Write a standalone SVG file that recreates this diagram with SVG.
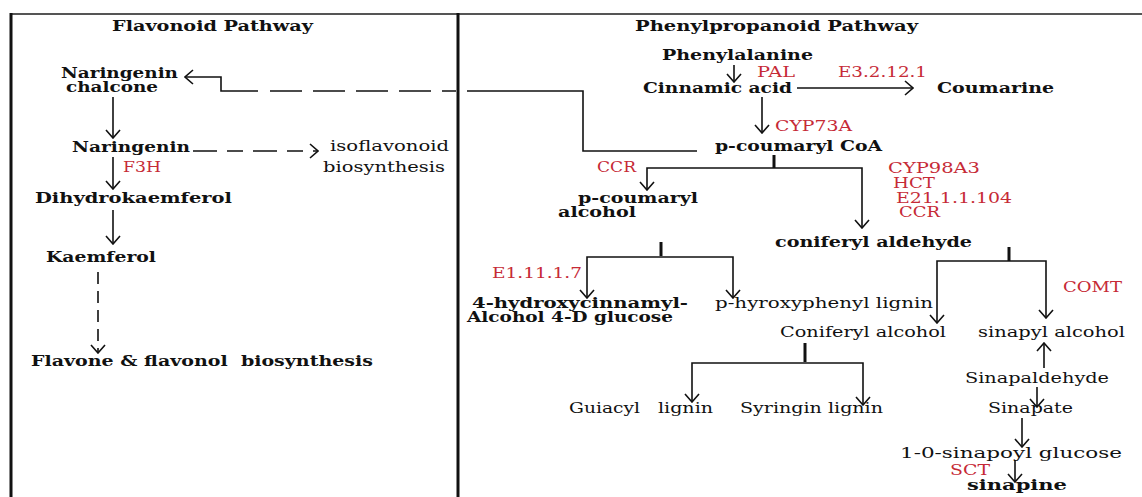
<svg xmlns="http://www.w3.org/2000/svg" width="1142" height="497" viewBox="0 0 1142 497">
<style>
text{font-family:"DejaVu Serif","Liberation Serif",serif;font-size:14px;fill:#111}
.b{font-weight:bold}
.r{fill:#c62a36}
.c{fill:none;stroke:#111;stroke-width:1.6}
.a{marker-end:url(#ah)}
.d{stroke-dasharray:32 11}
.t{fill:none;stroke:#111;stroke-width:3}
</style>
<defs>
<marker id="ah" viewBox="0 0 10 16" refX="9" refY="8" markerWidth="10" markerHeight="16" markerUnits="userSpaceOnUse" orient="auto">
<path d="M1,1 L9,8 L1,15" fill="none" stroke="#111" stroke-width="1.6"/>
</marker>
</defs>
<rect width="1142" height="497" fill="#fff"/>
<g id="frame">
<line x1="10" y1="14" x2="1142" y2="14" stroke="#555" stroke-width="2.2"/>
<line x1="11" y1="13" x2="11" y2="497" stroke="#111" stroke-width="3"/>
<line x1="458" y1="13" x2="458" y2="497" stroke="#111" stroke-width="3"/>
</g>
<g id="connectors">
<path class="c" d="M697,151 H583 V91 H467"/>
<path class="c d" d="M270,91 H456"/>
<path class="c a" d="M258,91 H221 V77 H185"/>
<path class="c a" d="M113,97 V138"/>
<path class="c a" d="M193,151 H318" stroke-dasharray="24 10 16 10"/>
<path class="c a" d="M113,157 V189"/>
<path class="c a" d="M113,210 V244"/>
<path class="c a" d="M98,272 V353" stroke-dasharray="12 7"/>
<path class="c a" d="M734,65 V82"/>
<path class="c a" d="M797,88 H913"/>
<path class="c a" d="M762,97 V133"/>
<line class="t" x1="774" y1="155" x2="774" y2="168"/>
<path class="c a" d="M774,168 H647 V190"/>
<path class="c a" d="M774,168 H862 V228"/>
<line class="t" x1="661" y1="242" x2="661" y2="256"/>
<path class="c a" d="M661,257 H587 V298"/>
<path class="c a" d="M661,257 H733 V298"/>
<line class="t" x1="1009" y1="247" x2="1009" y2="261"/>
<path class="c a" d="M1009,261 H937 V323"/>
<path class="c a" d="M1009,261 H1046 V318"/>
<line class="t" x1="805" y1="343" x2="805" y2="362"/>
<path class="c a" d="M805,363 H692 V402"/>
<path class="c a" d="M805,363 H863 V405"/>
<path class="c a" d="M1044,368 V343"/>
<path class="c a" d="M1037,387 V407"/>
<path class="c a" d="M1022,418 V447"/>
<path class="c a" d="M1015,460 V482"/>
</g>
<g id="title-flavonoid"><text class="b" x="112" y="31" textLength="201" lengthAdjust="spacingAndGlyphs">Flavonoid Pathway</text></g>
<g id="title-phenylpropanoid"><text class="b" x="635" y="31" textLength="283" lengthAdjust="spacingAndGlyphs">Phenylpropanoid Pathway</text></g>
<g id="naringenin-chalcone"><text class="b" x="61" y="78" textLength="117" lengthAdjust="spacingAndGlyphs">Naringenin</text><text class="b" x="66" y="92" textLength="92" lengthAdjust="spacingAndGlyphs">chalcone</text></g>
<g id="naringenin"><text class="b" x="72" y="152" textLength="118" lengthAdjust="spacingAndGlyphs">Naringenin</text></g>
<g id="f3h"><text class="r" x="123" y="172" textLength="38" lengthAdjust="spacingAndGlyphs">F3H</text></g>
<g id="isoflavonoid"><text x="330" y="151" textLength="119" lengthAdjust="spacingAndGlyphs">isoflavonoid</text><text x="323" y="172" textLength="122" lengthAdjust="spacingAndGlyphs">biosynthesis</text></g>
<g id="dihydrokaemferol"><text class="b" x="35" y="203" textLength="197" lengthAdjust="spacingAndGlyphs">Dihydrokaemferol</text></g>
<g id="kaemferol"><text class="b" x="46" y="262" textLength="110" lengthAdjust="spacingAndGlyphs">Kaemferol</text></g>
<g id="flavone"><text class="b" x="31" y="366" textLength="342" lengthAdjust="spacingAndGlyphs" xml:space="preserve">Flavone &amp; flavonol  biosynthesis</text></g>
<g id="phenylalanine"><text class="b" x="662" y="60" textLength="151" lengthAdjust="spacingAndGlyphs">Phenylalanine</text></g>
<g id="pal"><text class="r" x="757" y="77" textLength="38" lengthAdjust="spacingAndGlyphs">PAL</text></g>
<g id="e3"><text class="r" x="838" y="77" textLength="89" lengthAdjust="spacingAndGlyphs">E3.2.12.1</text></g>
<g id="cinnamic-acid"><text class="b" x="643" y="93" textLength="149" lengthAdjust="spacingAndGlyphs">Cinnamic acid</text></g>
<g id="coumarine"><text class="b" x="937" y="93" textLength="117" lengthAdjust="spacingAndGlyphs">Coumarine</text></g>
<g id="cyp73a"><text class="r" x="775" y="131" textLength="77" lengthAdjust="spacingAndGlyphs">CYP73A</text></g>
<g id="p-coumaryl-coa"><text class="b" x="715" y="151" textLength="167" lengthAdjust="spacingAndGlyphs">p-coumaryl CoA</text></g>
<g id="ccr1"><text class="r" x="597" y="172" textLength="39" lengthAdjust="spacingAndGlyphs">CCR</text></g>
<g id="p-coumaryl-alcohol"><text class="b" x="578" y="203" textLength="120" lengthAdjust="spacingAndGlyphs">p-coumaryl</text><text class="b" x="558" y="217" textLength="78" lengthAdjust="spacingAndGlyphs">alcohol</text></g>
<g id="enzymes2"><text class="r" x="888" y="173" textLength="92" lengthAdjust="spacingAndGlyphs">CYP98A3</text><text class="r" x="893" y="188" textLength="42" lengthAdjust="spacingAndGlyphs">HCT</text><text class="r" x="896" y="203" textLength="116" lengthAdjust="spacingAndGlyphs">E21.1.1.104</text><text class="r" x="899" y="217" textLength="41" lengthAdjust="spacingAndGlyphs">CCR</text></g>
<g id="coniferyl-aldehyde"><text class="b" x="775" y="247" textLength="197" lengthAdjust="spacingAndGlyphs">coniferyl aldehyde</text></g>
<g id="e1"><text class="r" x="492" y="278" textLength="90" lengthAdjust="spacingAndGlyphs">E1.11.1.7</text></g>
<g id="hydroxycinnamyl"><text class="b" x="472" y="308" textLength="216" lengthAdjust="spacingAndGlyphs">4-hydroxycinnamyl-</text><text class="b" x="467" y="322" textLength="206" lengthAdjust="spacingAndGlyphs">Alcohol 4-D glucose</text></g>
<g id="p-hydroxyphenyl-lignin"><text x="715" y="308" textLength="218" lengthAdjust="spacingAndGlyphs">p-hyroxyphenyl lignin</text></g>
<g id="comt"><text class="r" x="1063" y="292" textLength="59" lengthAdjust="spacingAndGlyphs">COMT</text></g>
<g id="coniferyl-alcohol"><text x="780" y="337" textLength="166" lengthAdjust="spacingAndGlyphs">Coniferyl alcohol</text></g>
<g id="sinapyl-alcohol"><text x="978" y="337" textLength="147" lengthAdjust="spacingAndGlyphs">sinapyl alcohol</text></g>
<g id="guiacyl-lignin"><text y="413"><tspan x="569" textLength="71" lengthAdjust="spacingAndGlyphs">Guiacyl</tspan> <tspan x="658" textLength="55" lengthAdjust="spacingAndGlyphs">lignin</tspan></text></g>
<g id="syringin-lignin"><text x="740" y="413" textLength="143" lengthAdjust="spacingAndGlyphs">Syringin lignin</text></g>
<g id="sinapaldehyde"><text x="965" y="383" textLength="144" lengthAdjust="spacingAndGlyphs">Sinapaldehyde</text></g>
<g id="sinapate"><text x="988" y="413" textLength="85" lengthAdjust="spacingAndGlyphs">Sinapate</text></g>
<g id="sinapoyl-glucose"><text x="900" y="458" textLength="222" lengthAdjust="spacingAndGlyphs">1-0-sinapoyl glucose</text></g>
<g id="sct"><text class="r" x="950" y="475" textLength="40" lengthAdjust="spacingAndGlyphs" style="font-size:15px">SCT</text></g>
<g id="sinapine"><text class="b" x="967" y="490" textLength="100" lengthAdjust="spacingAndGlyphs">sinapine</text></g>
</svg>
